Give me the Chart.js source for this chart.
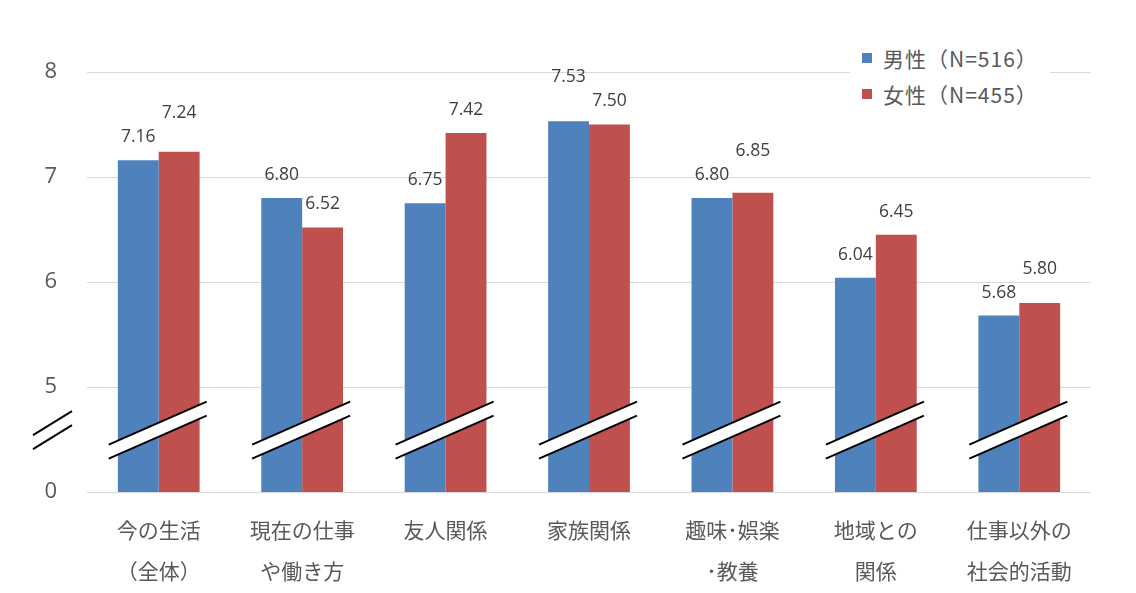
<!DOCTYPE html>
<html>
<head>
<meta charset="utf-8">
<script src="https://cdn.jsdelivr.net/npm/chart.js@4/dist/chart.umd.min.js"></script>
<style>
  html, body { margin: 0; padding: 0; background: #fff; }
  #wrap { position: relative; width: 1136px; height: 593px; }
  canvas { display: block; }
  #legend { position: absolute; left: 850px; top: 40px; width: 200px; background: #fff;
            font-family: "Noto Sans CJK JP", sans-serif; font-size: 21px; color: #595959; letter-spacing: 1px; }
  .li { position: relative; height: 36px; line-height: 36px; padding-left: 33px; white-space: nowrap; }
  .sw { position: absolute; left: 12px; top: 13px; width: 10px; height: 10px; }
</style>
</head>
<body>
<div id="wrap">
  <canvas id="c" width="1136" height="593"></canvas>
  <div id="legend"></div>
</div>
<script>
const categories = [
  ["今の生活", "（全体）"],
  ["現在の仕事", "や働き方"],
  ["友人関係"],
  ["家族関係"],
  ["趣味･娯楽", "･教養"],
  ["地域との", "関係"],
  ["仕事以外の", "社会的活動"]
];
const seriesNames = ["男性（N=516）", "女性（N=455）"];
const maleValues = [7.16, 6.80, 6.75, 7.53, 6.80, 6.04, 5.68];
const femaleValues = [7.24, 6.52, 7.42, 7.50, 6.85, 6.45, 5.80];
const yTicks = [4, 5, 6, 7, 8];
const yTickLabels = ["0", "5", "6", "7", "8"];
const colors = ["#4F81BD", "#C0504D"];

const FONT = "'Open Sans', 'Noto Sans CJK JP', sans-serif";
const JPFONT = "'Noto Sans CJK JP', sans-serif";

// Legend (HTML text)
const legendEl = document.getElementById('legend');
seriesNames.forEach((n, i) => {
  const d = document.createElement('div');
  d.className = 'li';
  d.innerHTML = '<span class="sw" style="background:' + colors[i] + '"></span>' + n;
  legendEl.appendChild(d);
});

const breakPlugin = {
  id: 'breaks',
  afterDatasetsDraw(chart) {
    const ctx = chart.ctx;
    const xs = chart.scales.x, ys = chart.scales.y;
    const yMid = ys.getPixelForValue(4.59);
    ctx.save();
    ctx.lineWidth = 2;
    ctx.strokeStyle = '#000';
    for (let i = 0; i < categories.length; i++) {
      const cx = xs.getPixelForValue(i);
      const x0 = cx - 50, x1 = cx + 48;
      const dy = 21.5, gap = 14;
      const yl = yMid + dy, yr = yMid - dy;
      ctx.fillStyle = '#fff';
      ctx.beginPath();
      ctx.moveTo(x0, yl - gap / 2);
      ctx.lineTo(x1, yr - gap / 2);
      ctx.lineTo(x1, yr + gap / 2);
      ctx.lineTo(x0, yl + gap / 2);
      ctx.closePath();
      ctx.fill();
      ctx.beginPath();
      ctx.moveTo(x0, yl - gap / 2); ctx.lineTo(x1, yr - gap / 2);
      ctx.moveTo(x0, yl + gap / 2); ctx.lineTo(x1, yr + gap / 2);
      ctx.stroke();
    }
    // axis break marks
    const ax0 = 33, ax1 = 72;
    ctx.beginPath();
    ctx.moveTo(ax0, yMid + 12 - 7); ctx.lineTo(ax1, yMid - 12 - 7);
    ctx.moveTo(ax0, yMid + 12 + 7); ctx.lineTo(ax1, yMid - 12 + 7);
    ctx.stroke();
    ctx.restore();

    // data labels
    ctx.save();
    ctx.font = '17.5px ' + FONT;
    ctx.fillStyle = '#404040';
    ctx.textAlign = 'center';
    ctx.textBaseline = 'middle';
    const m0 = chart.getDatasetMeta(0), m1 = chart.getDatasetMeta(1);
    const sets = [maleValues, femaleValues];
    for (let i = 0; i < categories.length; i++) {
      const b = [m0.data[i], m1.data[i]];
      const ly = [b[0].y - 23, b[1].y - 23];
      const hi = b[0].y < b[1].y ? 0 : 1, lo = 1 - hi;
      if (Math.abs(b[0].y - b[1].y) < 15) ly[hi] = ly[lo] - 24;
      for (let k = 0; k < 2; k++) {
        ctx.fillText(sets[k][i].toFixed(2), b[k].x, ly[k]);
      }
    }
    ctx.restore();
  }
};

new Chart(document.getElementById('c'), {
  type: 'bar',
  data: {
    labels: categories,
    datasets: [
      { label: seriesNames[0], data: maleValues, backgroundColor: colors[0], categoryPercentage: 0.57, barPercentage: 1.0 },
      { label: seriesNames[1], data: femaleValues, backgroundColor: colors[1], categoryPercentage: 0.57, barPercentage: 1.0 }
    ]
  },
  options: {
    responsive: false,
    animation: false,
    events: [],
    layout: { padding: { top: 72, right: 45, left: 0, bottom: 0 } },
    plugins: { legend: { display: false }, tooltip: { enabled: false } },
    scales: {
      x: {
        grid: { display: false },
        border: { display: false },
        ticks: { color: '#595959', font: { family: JPFONT, size: 21, lineHeight: 1.95 }, padding: 10, maxRotation: 0, autoSkip: false },
        afterFit(s) { s.height = 101; }
      },
      y: {
        min: 4, max: 8,
        afterBuildTicks(s) { s.ticks = yTicks.map(v => ({ value: v })); },
        grid: { color: '#d9d9d9', drawTicks: false, lineWidth: 1 },
        border: { display: false },
        ticks: {
          color: '#595959', font: { family: FONT, size: 22 }, padding: 30,
          callback: (v) => yTickLabels[yTicks.indexOf(v)]
        },
        afterFit(s) { s.width = 87; }
      }
    }
  },
  plugins: [breakPlugin]
});
</script>
</body>
</html>
